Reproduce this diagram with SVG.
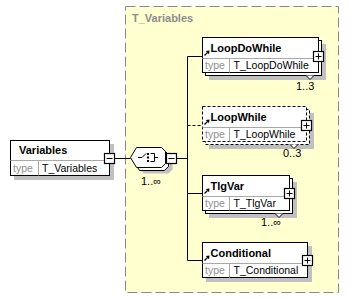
<svg xmlns="http://www.w3.org/2000/svg" xmlns:xlink="http://www.w3.org/1999/xlink" width="350" height="299" viewBox="0 0 350 299">
  <style>
    .frame{fill:#fff;stroke:#000;stroke-width:1}
    .opt{stroke-dasharray:3,2}
    .shadow{fill:#c0c0c0}
    .sep{stroke:#a8a8a8;stroke-width:1;fill:none}
    .name{font:bold 11px "Liberation Sans",Arial,sans-serif;fill:#000}
    .tlabel{font:10.5px "Liberation Sans",Arial,sans-serif;fill:#909090}
    .tval{font:10.5px "Liberation Sans",Arial,sans-serif;fill:#000}
    .occ{font:11px "Liberation Sans",Arial,sans-serif;fill:#000}
    .wire{stroke:#000;stroke-width:1;fill:none}
    .title{font:bold 11px "Liberation Sans",Arial,sans-serif;fill:#8c8c8c}
  </style>
  <defs>
    <g id="plus">
      <rect x="-5" y="-5" width="10" height="10" fill="#fff" stroke="#000" stroke-width="1.2"/>
      <path d="M-3,0H3M0,-3V3" stroke="#000" stroke-width="1"/>
    </g>
    <g id="minus">
      <rect x="-5" y="-5" width="10" height="10" fill="#fff" stroke="#000" stroke-width="1.2"/>
      <path d="M-3,0H3" stroke="#000" stroke-width="1"/>
    </g>
    <g id="ref">
      <path d="M0.5,-0.5L3.5,-3.5" stroke="#000" stroke-width="1.3"/>
      <path d="M5.5,-5.5L1.8,-5L5,-1.8Z" fill="#000"/>
    </g>
    <path id="notch" d="M-4,0L0,4L4,0" fill="#fff" stroke="#000" stroke-width="1"/>
    <path id="seqshape" d="M130.5,157.5L136.5,147.5H161.5L165.5,151.5V163.5L161.5,167.5H136.5Z"/>
  </defs>

  <!-- complex type container -->
  <g id="T_Variables">
    <rect x="125.5" y="6.5" width="213" height="286" fill="#ffffd0" stroke="#888" stroke-width="1" stroke-dasharray="10,4"/>
    <text class="title" x="132" y="22">T_Variables</text>
  </g>

  <!-- connectors -->
  <g id="connectors">
    <path class="wire" d="M114.5,158.5H130.5"/>
    <path class="wire" d="M176.5,158.5H187.5"/>
    <path class="wire" d="M187.5,56.5V260.5"/>
    <path class="wire" d="M187.5,56.5H202.5"/>
    <path class="wire opt" d="M187.5,125.5H202.5"/>
    <path class="wire" d="M187.5,193.5H202.5"/>
    <path class="wire" d="M187.5,260.5H202.5"/>
  </g>

  <!-- root element -->
  <g id="Variables">
    <rect class="shadow" x="14" y="144" width="100" height="36"/>
    <rect class="frame" x="10.5" y="140.5" width="99" height="35"/>
    <path class="sep" d="M10.5,160.5H109.5M38.5,160.5V175.5"/>
    <text class="name" x="19" y="154">Variables</text>
    <text class="tlabel" x="13" y="172">type</text>
    <text class="tval" x="42" y="172">T_Variables</text>
    <use xlink:href="#minus" x="109.5" y="158.5"/>
  </g>

  <!-- sequence compositor -->
  <g id="sequence">
    <use xlink:href="#seqshape" class="shadow" transform="translate(7,6)"/>
    <use xlink:href="#seqshape" class="frame" transform="translate(3,3)"/>
    <use xlink:href="#seqshape" class="frame"/>
    <path d="M138,157.5H142L146,153.5" stroke="#000" fill="none"/>
    <rect x="147" y="153" width="2" height="2" fill="#000"/>
    <rect x="147" y="156.5" width="2" height="2" fill="#000"/>
    <rect x="147" y="160" width="2" height="2" fill="#000"/>
    <path d="M150.5,153.5H154.5V161.5H150.5M154.5,157.5H158" stroke="#000" fill="none"/>
    <use xlink:href="#minus" x="171.5" y="158.5"/>
    <text class="occ" x="141" y="185">1..∞</text>
  </g>

  <!-- LoopDoWhile 1..3 -->
  <g id="LoopDoWhile">
    <rect class="shadow" x="209" y="44" width="117" height="36"/>
    <rect class="frame" x="205.5" y="40.5" width="116" height="35"/>
    <rect class="frame" x="202.5" y="37.5" width="116" height="35"/>
    <path class="sep" d="M202.5,58.5H318.5M229.5,58.5V72.5"/>
    <use xlink:href="#ref" x="204" y="56"/>
    <text class="name" x="210.5" y="52">LoopDoWhile</text>
    <text class="tlabel" x="205" y="69">type</text>
    <text class="tval" x="233.5" y="69">T_LoopDoWhile</text>
    <use xlink:href="#plus" x="318.5" y="56.5"/>
    <use xlink:href="#notch" x="310" y="75.5"/>
    <text class="occ" x="296" y="90">1..3</text>
  </g>

  <!-- LoopWhile 0..3 (optional) -->
  <g id="LoopWhile">
    <rect class="shadow" x="209" y="113" width="105" height="36"/>
    <rect class="frame opt" x="205.5" y="109.5" width="104" height="35"/>
    <rect class="frame opt" x="202.5" y="106.5" width="104" height="35"/>
    <path class="sep" d="M202.5,127.5H306.5M229.5,127.5V141.5"/>
    <use xlink:href="#ref" x="204" y="125"/>
    <text class="name" x="210.5" y="121">LoopWhile</text>
    <text class="tlabel" x="205" y="138">type</text>
    <text class="tval" x="233.5" y="138">T_LoopWhile</text>
    <use xlink:href="#plus" x="306.5" y="125.5"/>
    <use xlink:href="#notch" x="294" y="144.5"/>
    <text class="occ" x="283" y="157">0..3</text>
  </g>

  <!-- TlgVar 1..unbounded -->
  <g id="TlgVar">
    <rect class="shadow" x="209" y="182" width="88" height="36"/>
    <rect class="frame" x="205.5" y="178.5" width="87" height="35"/>
    <rect class="frame" x="202.5" y="175.5" width="87" height="35"/>
    <path class="sep" d="M202.5,196.5H289.5M229.5,196.5V210.5"/>
    <use xlink:href="#ref" x="204" y="194"/>
    <text class="name" x="210.5" y="190">TlgVar</text>
    <text class="tlabel" x="205" y="207">type</text>
    <text class="tval" x="233.5" y="207">T_TlgVar</text>
    <use xlink:href="#plus" x="289.5" y="193.5"/>
    <use xlink:href="#notch" x="279" y="213.5"/>
    <text class="occ" x="261" y="226">1..∞</text>
  </g>

  <!-- Conditional -->
  <g id="Conditional">
    <rect class="shadow" x="206" y="246" width="106" height="36"/>
    <rect class="frame" x="202.5" y="242.5" width="105" height="35"/>
    <path class="sep" d="M202.5,263.5H307.5M229.5,263.5V277.5"/>
    <use xlink:href="#ref" x="204" y="261"/>
    <text class="name" x="210.5" y="257">Conditional</text>
    <text class="tlabel" x="205" y="274">type</text>
    <text class="tval" x="233.5" y="274">T_Conditional</text>
    <use xlink:href="#plus" x="307.5" y="260.5"/>
  </g>
</svg>
